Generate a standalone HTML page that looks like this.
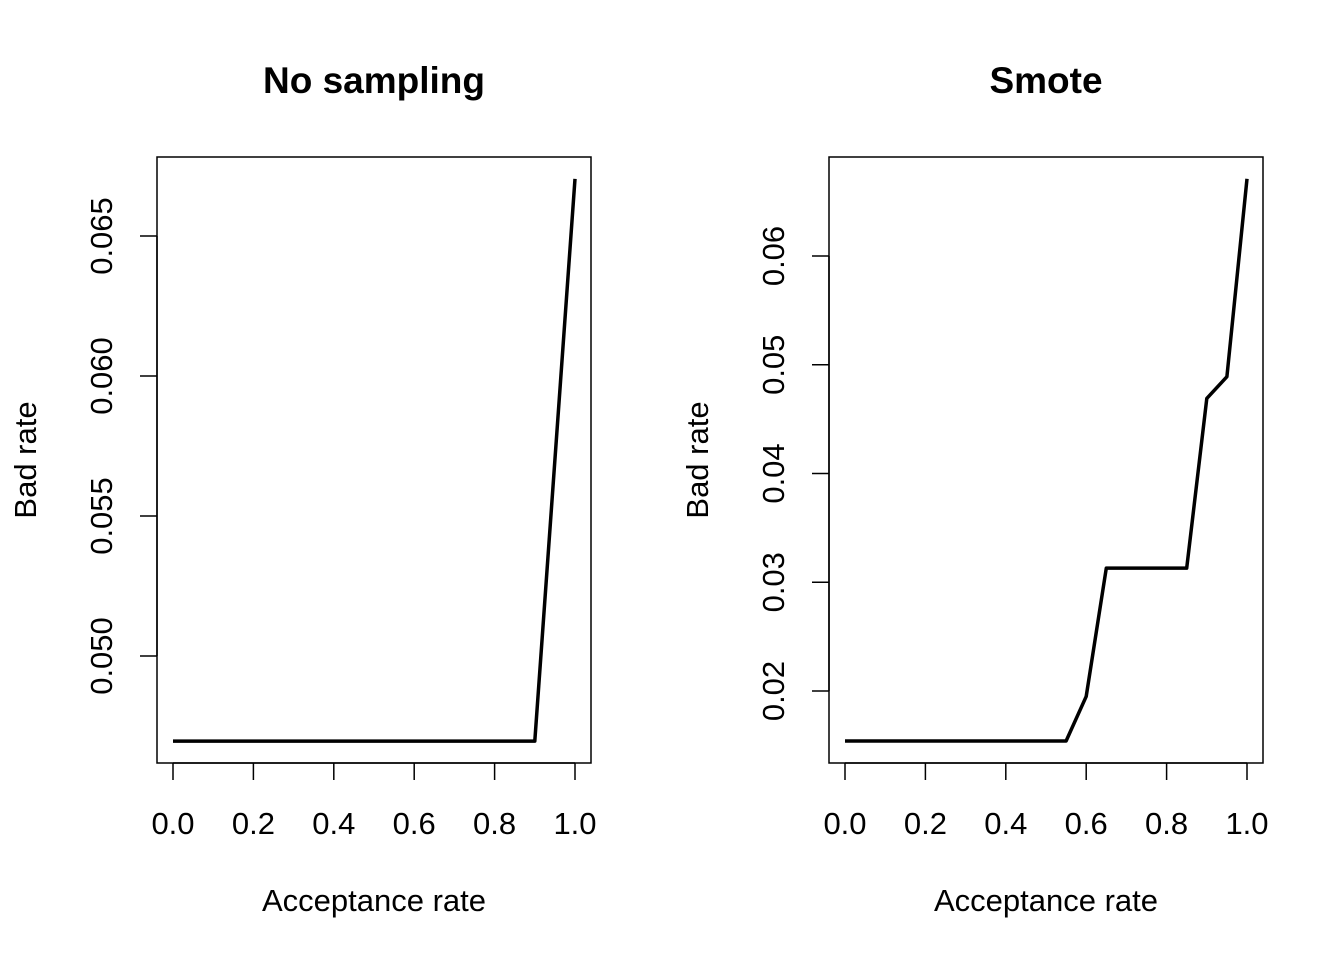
<!DOCTYPE html>
<html><head><meta charset="utf-8"><style>
html,body{margin:0;padding:0;background:#fff;}
svg{display:block;font-family:"Liberation Sans",Arial,sans-serif;}
</style></head><body>
<svg id="chart" width="1344" height="960" viewBox="0 0 1344 960"></svg>
<script>
const xTicks = [0, 0.2, 0.4, 0.6, 0.8, 1.0];
const xTickLabels = ["0.0","0.2","0.4","0.6","0.8","1.0"];
const leftX = [0,0.05,0.1,0.15,0.2,0.25,0.3,0.35,0.4,0.45,0.5,0.55,0.6,0.65,0.7,0.75,0.8,0.85,0.9,1.0];
const leftY = [0.04696,0.04696,0.04696,0.04696,0.04696,0.04696,0.04696,0.04696,0.04696,0.04696,0.04696,0.04696,0.04696,0.04696,0.04696,0.04696,0.04696,0.04696,0.04696,0.06704];
const leftYTicks = [0.050,0.055,0.060,0.065];
const leftYTickLabels = ["0.050","0.055","0.060","0.065"];
const rightX = [0,0.05,0.1,0.15,0.2,0.25,0.3,0.35,0.4,0.45,0.5,0.55,0.6,0.65,0.7,0.75,0.8,0.85,0.9,0.95,1.0];
const rightY = [0.0154,0.0154,0.0154,0.0154,0.0154,0.0154,0.0154,0.0154,0.0154,0.0154,0.0154,0.0154,0.0195,0.0313,0.0313,0.0313,0.0313,0.0313,0.0469,0.0489,0.0671];
const rightYTicks = [0.02,0.03,0.04,0.05,0.06];
const rightYTickLabels = ["0.02","0.03","0.04","0.05","0.06"];

const NS="http://www.w3.org/2000/svg";
const svg=document.getElementById('chart');
function mk(tag,attrs,parent){const e=document.createElementNS(NS,tag);for(const k in attrs)e.setAttribute(k,attrs[k]);(parent||svg).appendChild(e);return e;}

function panel(cfg){
  const g=mk('g',{});
  
  
  const xs=v=>cfg.x0+(v-0)*(cfg.x1-cfg.x0);
  const ys=v=>cfg.yA+(v-cfg.vA)*(cfg.yB-cfg.yA)/(cfg.vB-cfg.vA);
  const box=mk('rect',{x:cfg.bx,y:157,width:434,height:606,fill:'none',stroke:'#000','stroke-width':1.5},g);
  
  
  const t=mk('text',{x:cfg.bx+217,y:93,'text-anchor':'middle','font-size':'37px','font-weight':'bold'},g);
  t.textContent=cfg.title;
  
  
  const xa=mk('line',{x1:xs(0),x2:xs(1),y1:763,y2:763,stroke:'#000','stroke-width':1.5},g);
  
  
  xTicks.forEach((v,i)=>{
    mk('line',{x1:xs(v),x2:xs(v),y1:763,y2:780,stroke:'#000','stroke-width':1.5},g);
    const l=mk('text',{x:xs(v),y:834,'text-anchor':'middle','font-size':'31px'},g);
    l.textContent=xTickLabels[i];
    
    
  });
  const xt=mk('text',{x:cfg.bx+217,y:911,'text-anchor':'middle','font-size':'31px'},g);
  xt.textContent='Acceptance rate';
  
  
  const yt0=cfg.yTicks[0], yt1=cfg.yTicks[cfg.yTicks.length-1];
  const ya=mk('line',{x1:cfg.bx,x2:cfg.bx,y1:ys(yt0),y2:ys(yt1),stroke:'#000','stroke-width':1.5},g);
  
  
  cfg.yTicks.forEach((v,i)=>{
    const y=ys(v);
    mk('line',{x1:cfg.bx-17,x2:cfg.bx,y1:y,y2:y,stroke:'#000','stroke-width':1.5},g);
    const lx=cfg.bx-45;
    const l=mk('text',{x:lx,y:y,'text-anchor':'middle','font-size':'31px',transform:`rotate(-90 ${lx} ${y})`},g);
    l.textContent=cfg.yLabels[i];
    
    
  });
  const yx=cfg.bx-121;
  const yl=mk('text',{x:yx,y:460,'text-anchor':'middle','font-size':'31px',transform:`rotate(-90 ${yx} 460)`},g);
  yl.textContent='Bad rate';
  
  
  const pts=cfg.xd.map((v,i)=>xs(v)+','+ys(cfg.yd[i])).join(' ');
  const pl=mk('polyline',{points:pts,fill:'none',stroke:'#000','stroke-width':3.5,'stroke-linejoin':'round'},g);
  
  
}
panel({name:'no-sampling-panel',title:'No sampling',bx:157,x0:173,x1:575,vA:0.050,yA:656,vB:0.065,yB:236,yTicks:leftYTicks,yLabels:leftYTickLabels,xd:leftX,yd:leftY});
panel({name:'smote-panel',title:'Smote',bx:829,x0:845,x1:1247,vA:0.02,yA:691,vB:0.06,yB:256,yTicks:rightYTicks,yLabels:rightYTickLabels,xd:rightX,yd:rightY});
</script>
</body></html>
